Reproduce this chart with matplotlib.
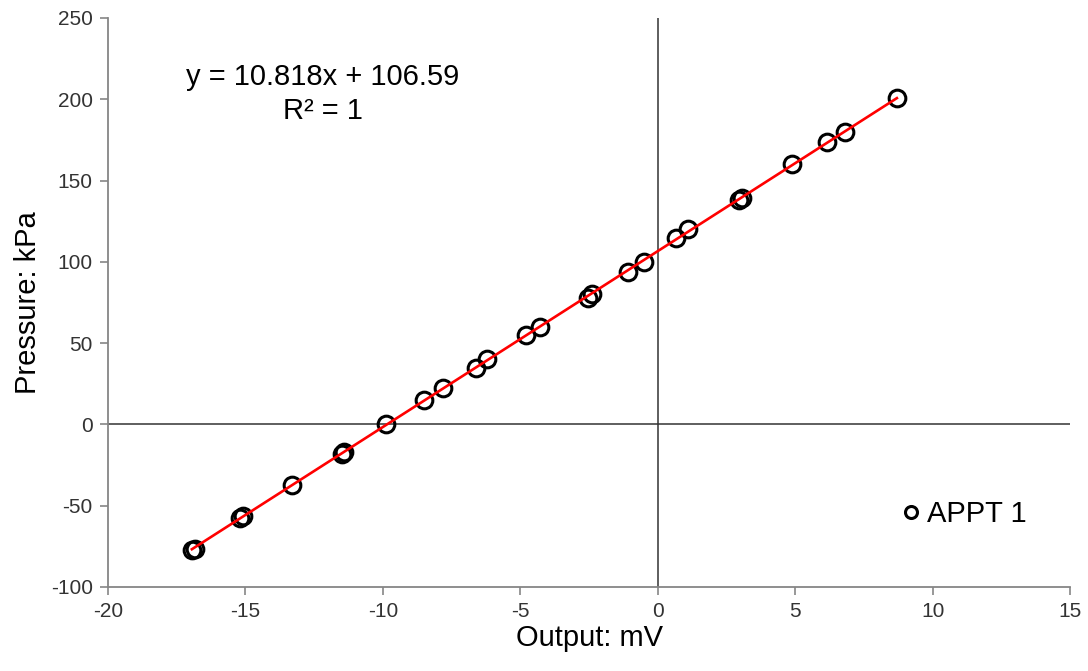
import matplotlib
matplotlib.use('Agg')
import matplotlib.pyplot as plt
import numpy as np

# Calibration readings
output_mv = [-16.95, -16.85, -15.2, -15.1, -13.3, -11.5, -11.4, -9.9, -8.5, -7.8,
             -6.6, -6.2, -4.8, -4.3, -2.55, -2.4, -1.1, -0.5, 0.65, 1.1,
             2.95, 3.05, 4.9, 6.15, 6.8, 8.7]
pressure_kpa = [-77, -76.5, -57.5, -56.5, -37.5, -18, -17, 0, 15, 22.5,
                35, 40, 55, 60, 78, 80, 94, 100, 114.5, 120,
                138, 139.5, 160, 174, 180, 201]

slope = 10.818
intercept = 106.59
r_squared = 1

plt.rcParams['font.family'] = ['Liberation Sans', 'DejaVu Sans']
plt.rcParams['axes.unicode_minus'] = False

fig = plt.figure(figsize=(10.88, 6.71), dpi=100)
ax = fig.add_axes([0.0993, 0.1252, 0.8842, 0.848])

spine_col = '#868686'

# zero lines
ax.axhline(0, color='#333333', lw=1.1, zorder=1)
ax.axvline(0, color='#333333', lw=1.1, zorder=1)

# trendline
xfit = np.array([min(output_mv), max(output_mv)])
ax.plot(xfit, slope * xfit + intercept, color='#ff0000', lw=1.9, zorder=3)

ax.plot(output_mv, pressure_kpa, linestyle='none', marker='o', markersize=12,
        markerfacecolor='none', markeredgecolor='black', markeredgewidth=2.2,
        label='APPT 1', zorder=2)

ax.set_xlim(-20, 15)
ax.set_ylim(-100, 250)
ax.set_xticks(np.arange(-20, 16, 5))
ax.set_yticks(np.arange(-100, 251, 50))

for s in ['top', 'right']:
    ax.spines[s].set_visible(False)
for s in ['left', 'bottom']:
    ax.spines[s].set_color(spine_col)
    ax.spines[s].set_linewidth(1.3)

ax.tick_params(axis='both', direction='out', length=6, width=1.2, color=spine_col,
               labelsize=15, labelcolor='#333333', pad=5)

ax.set_xlabel('Output: mV', fontsize=21, labelpad=2)
ax.set_ylabel('Pressure: kPa', fontsize=21, labelpad=6)

ax.text(0.2235, 0.896, f'y = {slope}x + {intercept}', transform=ax.transAxes,
        ha='center', va='center', fontsize=21)
ax.text(0.2235, 0.836, f'R² = {r_squared}', transform=ax.transAxes,
        ha='center', va='center', fontsize=21)

ax.legend(loc='center left', bbox_to_anchor=(0.809, 0.128), frameon=False,
          fontsize=21, handlelength=0.7, handletextpad=0.2, borderpad=0,
          markerscale=0.72)

fig.savefig('out.png', dpi=100)
